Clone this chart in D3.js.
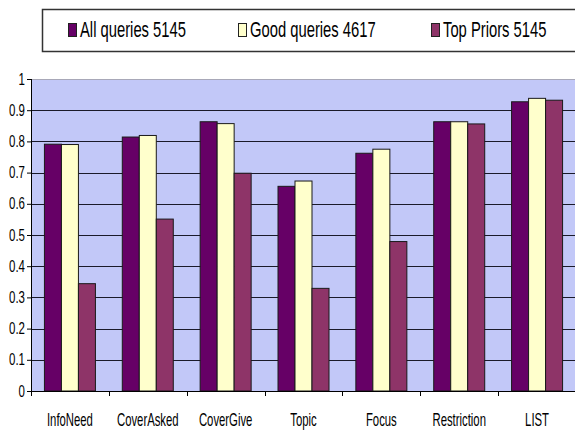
<!DOCTYPE html>
<html>
<head>
<meta charset="utf-8">
<script src="https://cdn.jsdelivr.net/npm/d3@7"></script>
<style>
  body { margin: 0; background: #fff; }
  text { font-family: "Liberation Sans", Arial, sans-serif; fill: #000; }
</style>
</head>
<body>
<svg id="chart" width="575" height="431"></svg>
<script>
// data
var categories = ["InfoNeed", "CoverAsked", "CoverGive", "Topic", "Focus", "Restriction", "LIST"];
var seriesNames = ["All queries 5145", "Good queries 4617", "Top Priors 5145"];
var allQueries  = [0.791, 0.814, 0.863, 0.656, 0.762, 0.863, 0.927];
var goodQueries = [0.790, 0.819, 0.857, 0.673, 0.775, 0.863, 0.938];
var topPriors   = [0.344, 0.551, 0.698, 0.329, 0.479, 0.856, 0.932];
var yTicks = [0, 0.1, 0.2, 0.3, 0.4, 0.5, 0.6, 0.7, 0.8, 0.9, 1];
var colors = ["#660066", "#FFFFCC", "#8E3468"];

var svg = d3.select("#chart");
var plot = { left: 31, right: 576, top: 79, bottom: 391 };

// the original fonts are very narrow: get a horizontal squeeze factor
// so that one sample text ends up at the width seen in the picture
function squeezeFactor(sel, target) {
  return target / sel.node().getComputedTextLength();
}

var x = d3.scaleBand()
  .domain(categories)
  .range([plot.left, plot.right])
  .padding(0);

var xInner = d3.scaleBand()
  .domain(seriesNames)
  .range([0, x.bandwidth()])
  .paddingInner(0)
  .paddingOuter(0.79);

var y = d3.scaleLinear()
  .domain([0, 1])
  .range([plot.bottom, plot.top]);

// plot background
svg.append("rect")
  .attr("x", plot.left)
  .attr("y", plot.top)
  .attr("width", plot.right - plot.left)
  .attr("height", plot.bottom - plot.top)
  .attr("fill", "#C2C8F8");

svg.append("line")
  .attr("x1", plot.left).attr("x2", plot.right)
  .attr("y1", y(1) + 0.5).attr("y2", y(1) + 0.5)
  .attr("stroke", "#A8A8B8");

// gridlines
svg.append("g")
  .selectAll("line")
  .data(yTicks.filter(function(d) { return d > 0 && d < 1; }))
  .enter().append("line")
  .attr("x1", plot.left).attr("x2", plot.right)
  .attr("y1", function(d) { return Math.round(y(d)) + 0.5; })
  .attr("y2", function(d) { return Math.round(y(d)) + 0.5; })
  .attr("stroke", "#1a1a2a");

// bars
var seriesData = [allQueries, goodQueries, topPriors];
seriesData.forEach(function(vals, si) {
  svg.append("g")
    .selectAll("rect")
    .data(vals)
    .enter().append("rect")
    .attr("x", function(d, i) { return x(categories[i]) + xInner(seriesNames[si]); })
    .attr("y", function(d) { return y(d); })
    .attr("width", xInner.bandwidth())
    .attr("height", function(d) { return y(0) - y(d); })
    .attr("fill", colors[si])
    .attr("stroke", "#1a1a1a")
    .attr("stroke-width", 1);
});

// y axis
var yAxis = svg.append("g")
  .attr("transform", "translate(" + plot.left + ",0)")
  .call(d3.axisLeft(y)
    .tickValues(yTicks)
    .tickSize(4)
    .tickPadding(2)
    .tickFormat(function(d) { return (d === 0 || d === 1) ? d : d.toFixed(1); }));
yAxis.select(".domain").attr("stroke", "#000").attr("d", "M0.5," + plot.top + "V" + plot.bottom);
yAxis.selectAll(".tick line").attr("stroke", "#000");
var yText = yAxis.selectAll("text").style("font-size", "16px").attr("fill", "#000");
var ky = squeezeFactor(yText.filter(function(d) { return d === 0.9; }), 16);
yText.attr("x", -6 / ky).attr("transform", "scale(" + ky + ",1)");

// x axis
var xAxis = svg.append("g")
  .attr("transform", "translate(0," + plot.bottom + ")")
  .call(d3.axisBottom(x).tickSize(0).tickPadding(22));
xAxis.select(".domain").attr("stroke", "#000").attr("d", "M" + plot.left + ",0.5H" + plot.right);
var xText = xAxis.selectAll("text").style("font-size", "19px").attr("fill", "#000");
var kx = squeezeFactor(xText.filter(function(d) { return d === "InfoNeed"; }), 46);
xText.attr("transform", "scale(" + kx + ",1)");

// category boundary ticks
xAxis.append("g")
  .selectAll("line")
  .data(categories)
  .enter().append("line")
  .attr("x1", function(d) { return Math.round(x(d)) + 0.5; })
  .attr("x2", function(d) { return Math.round(x(d)) + 0.5; })
  .attr("y1", 0).attr("y2", 5)
  .attr("stroke", "#000");

// legend
var legend = svg.append("g");
legend.append("rect")
  .attr("x", 42.5).attr("y", 9.5)
  .attr("width", 600).attr("height", 42)
  .attr("fill", "#fff")
  .attr("stroke", "#333")
  .attr("stroke-width", 1.5);

var legendX = [68, 238, 431];
var kl = null;
seriesNames.forEach(function(name, i) {
  legend.append("rect")
    .attr("x", legendX[i] + 0.5).attr("y", 23.5)
    .attr("width", 8).attr("height", 13)
    .attr("fill", colors[i])
    .attr("stroke", "#222");
  var t = legend.append("text")
    .attr("x", 0)
    .attr("y", 0)
    .style("font-size", "22px")
    .text(name);
  if (kl === null) kl = squeezeFactor(t, 106);
  t.attr("transform", "translate(" + (legendX[i] + 12) + ",37) scale(" + kl + ",1)");
});
</script>
</body>
</html>
